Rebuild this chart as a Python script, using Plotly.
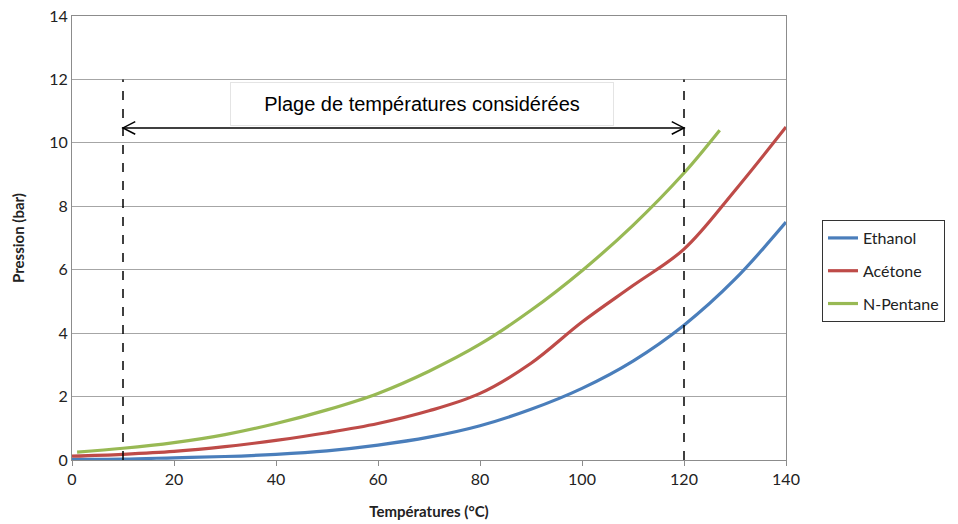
import plotly.graph_objects as go

# Data
temps = [0, 10, 20, 30, 40, 50, 60, 70, 80, 90, 100, 110, 120, 130, 140]
ethanol = [0.02, 0.03, 0.07, 0.11, 0.18, 0.29, 0.47, 0.72, 1.08, 1.6, 2.26, 3.12, 4.25, 5.7, 7.5]
acetone = [0.12, 0.18, 0.27, 0.42, 0.62, 0.86, 1.15, 1.55, 2.1, 3.05, 4.35, 5.5, 6.65, 8.5, 10.5]
temps_pentane = [1, 10, 20, 30, 40, 50, 60, 70, 80, 90, 100, 110, 120, 127]
pentane = [0.25, 0.37, 0.55, 0.8, 1.15, 1.58, 2.1, 2.8, 3.65, 4.72, 5.97, 7.4, 9.05, 10.4]

range_min, range_max = 10, 120
range_label = "Plage de températures considérées"
x_title = "Températures (°C)"
y_title = "Pression (bar)"

TICK_FONT = "Lato, Carlito, Calibri, sans-serif"

fig = go.Figure()
series = [
    ("Ethanol", temps, ethanol, "#4A7EBB"),
    ("Acétone", temps, acetone, "#BE4B48"),
    ("N-Pentane", temps_pentane, pentane, "#98B954"),
]
for name, xs, ys, col in series:
    fig.add_trace(go.Scatter(
        x=xs, y=ys, mode="lines", name=name, legendgroup=name,
        line=dict(color=col, width=3.2, shape="spline", smoothing=1.0),
    ))

# dashed vertical bounds
for xv in (range_min, range_max):
    fig.add_shape(type="line", x0=xv, x1=xv, y0=0, y1=12, xref="x", yref="y",
                  line=dict(color="black", width=1.5, dash="dash"))

# horizontal arrow line
arrow_y = 10.47
fig.add_shape(type="line", x0=range_min, x1=range_max, y0=arrow_y, y1=arrow_y,
              xref="x", yref="y", line=dict(color="black", width=1.5))
# open chevron heads
dx, dy = 2.4, 0.2
fig.add_shape(type="path", xref="x", yref="y",
              path=f"M {range_min+dx},{arrow_y+dy} L {range_min},{arrow_y} L {range_min+dx},{arrow_y-dy}",
              line=dict(color="black", width=1.5))
fig.add_shape(type="path", xref="x", yref="y",
              path=f"M {range_max-dx},{arrow_y+dy} L {range_max},{arrow_y} L {range_max-dx},{arrow_y-dy}",
              line=dict(color="black", width=1.5))

fig.add_annotation(
    x=68.6, y=11.23, xref="x", yref="y", text=range_label, showarrow=False,
    font=dict(family="Liberation Sans, Arial, sans-serif", size=20, color="black"),
    bgcolor="white", bordercolor="#e4e4e4", borderwidth=1, width=376, height=36, borderpad=3,
)

fig.update_layout(
    width=958, height=524,
    margin=dict(l=72, r=172, t=16, b=64, autoexpand=False),
    paper_bgcolor="white", plot_bgcolor="white",
    font=dict(family=TICK_FONT, size=14, color="#222222"),
    showlegend=True,
    legend=dict(
        x=1.0504, y=0.5405, xanchor="left", yanchor="top",
        bordercolor="#333333", borderwidth=1, bgcolor="white",
        font=dict(family=TICK_FONT, size=16, color="#222222"),
        traceorder="grouped", tracegroupgap=9,
    ),
    xaxis=dict(
        range=[0, 140], dtick=20, tick0=0, showgrid=False, automargin=False,
        showline=True, linecolor="#8c8c8c", linewidth=1, mirror=True,
        ticks="outside", ticklen=5, tickcolor="#8c8c8c", ticklabeloverflow="allow",
        title=dict(text=f"<b>{x_title}</b>", font=dict(size=15, color="#222222"), standoff=19),
        zeroline=False, tickfont=dict(size=16),
    ),
    yaxis=dict(
        range=[0, 14], dtick=2, tick0=0, showgrid=True, gridcolor="#a6a6a6", gridwidth=1,
        showline=True, linecolor="#8c8c8c", linewidth=1, mirror=True, automargin=False,
        ticks="", ticklabeloverflow="allow",
        title=dict(text=f"<b>{y_title}</b>", font=dict(size=15, color="#222222"), standoff=20),
        zeroline=False, tickfont=dict(size=16),
    ),
)

fig.write_html("out.html", config={"displayModeBar": False},
               post_script="document.body.style.margin='0px';")
